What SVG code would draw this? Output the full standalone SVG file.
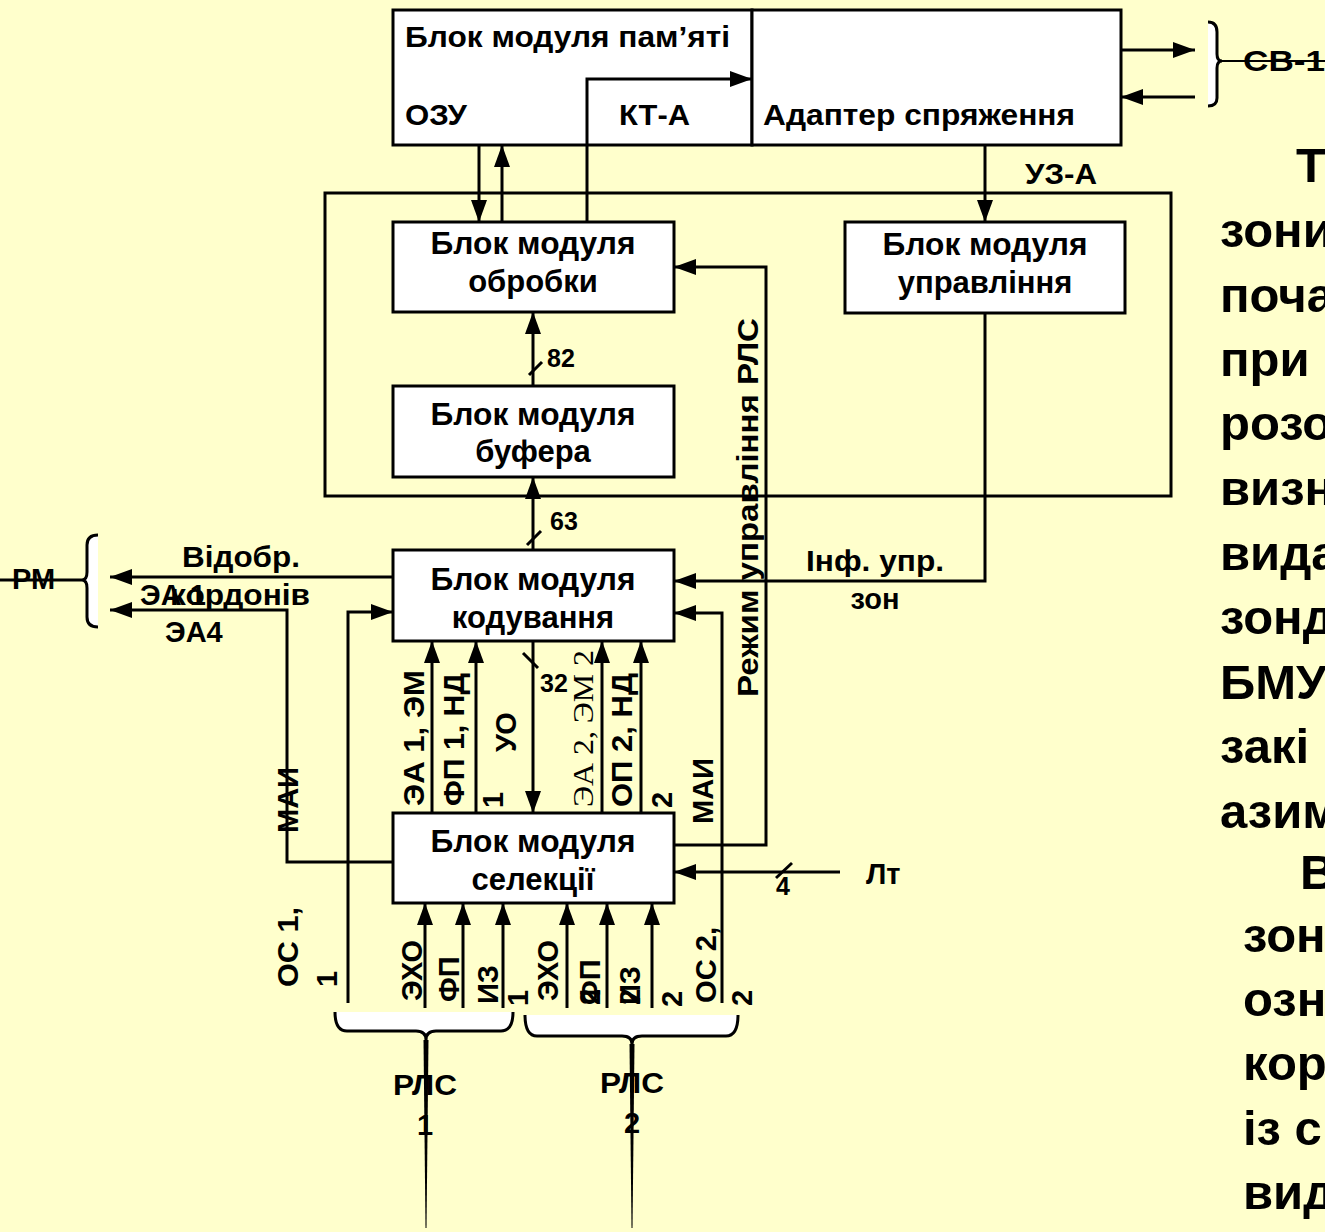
<svg xmlns="http://www.w3.org/2000/svg" width="1325" height="1232" viewBox="0 0 1325 1232">
<defs>
<marker id="ah" markerUnits="userSpaceOnUse" markerWidth="24" markerHeight="18" refX="22" refY="8" orient="auto"><path d="M0,0 L22,8 L0,16 z" fill="#000"/></marker>
<style>
.ln{stroke:#000;stroke-width:3;fill:none}
.arr{stroke:#000;stroke-width:3;fill:none;marker-end:url(#ah)}
.box{fill:#fff;stroke:#000;stroke-width:3}
.br{fill:#fff;stroke:#000;stroke-width:3}
text{font-family:"Liberation Sans",Arial,sans-serif;font-weight:bold;fill:#000}
.n{font-size:31px;text-anchor:middle}
.l{font-size:29px}
.s{font-size:25px}
.big{font-size:49px}
</style>
</defs>
<rect width="1325" height="1232" fill="#FFFFCC"/>

<g id="outer-frame"><rect x="325" y="193" width="846" height="303" fill="none" stroke="#000" stroke-width="3"/></g>

<g id="memory-block">
<rect class="box" x="393" y="10" width="359" height="135"/>
<text x="405" y="47" style="font-size:30px" textLength="325" lengthAdjust="spacingAndGlyphs">Блок модуля пам’яті</text>
<text x="405" y="125" style="font-size:30px" textLength="62" lengthAdjust="spacingAndGlyphs">ОЗУ</text>
<text x="619" y="125" style="font-size:30px" textLength="71" lengthAdjust="spacingAndGlyphs">КТ-А</text>
</g>
<g id="adapter">
<rect class="box" x="752" y="10" width="369" height="135"/>
<text x="763" y="125" style="font-size:30px" textLength="312" lengthAdjust="spacingAndGlyphs">Адаптер спряження</text>
</g>
<g id="block-obrobky"><rect class="box" x="393" y="222" width="281" height="90"/><text class="n" x="533" y="254" textLength="205" lengthAdjust="spacingAndGlyphs">Блок модуля</text><text class="n" x="533" y="292">обробки</text></g>
<g id="block-upravlinnya"><rect class="box" x="845" y="222" width="280" height="91"/><text class="n" x="985" y="255" textLength="205" lengthAdjust="spacingAndGlyphs">Блок модуля</text><text class="n" x="985" y="293">управління</text></g>
<g id="block-bufera"><rect class="box" x="393" y="386" width="281" height="91"/><text class="n" x="533" y="425" textLength="205" lengthAdjust="spacingAndGlyphs">Блок модуля</text><text class="n" x="533" y="462">буфера</text></g>
<g id="block-koduvannya"><rect class="box" x="393" y="550" width="281" height="91"/><text class="n" x="533" y="590" textLength="205" lengthAdjust="spacingAndGlyphs">Блок модуля</text><text class="n" x="533" y="628">кодування</text></g>
<g id="block-selektsii"><rect class="box" x="393" y="813" width="281" height="90"/><text class="n" x="533" y="852" textLength="205" lengthAdjust="spacingAndGlyphs">Блок модуля</text><text class="n" x="533" y="890">селекції</text></g>

<g id="connectors">
<path class="arr" d="M479,145 V222"/>
<path class="arr" d="M502,222 V145"/>
<path class="arr" d="M587,222 V79 H752"/>
<path class="arr" d="M985,145 V222"/>
<path class="arr" d="M1121,50 H1195"/>
<path class="arr" d="M1195,97 H1121"/>
<path class="arr" d="M533,386 V312"/>
<path class="ln" d="M529,375 L542,362"/>
<path class="arr" d="M533,550 V477"/>
<path class="ln" d="M527,545 L541,531"/>
<path class="arr" d="M674,845 H766 V267 H674"/>
<path class="arr" d="M985,313 V581 H674"/>
<path class="arr" d="M722,1003 V613 H674"/>
<path class="arr" d="M840,872 H674"/>
<path class="ln" d="M776,878 L792,863"/>
<path class="arr" d="M393,577 H110"/>
<path class="arr" d="M393,862 H287 V610 H110"/>
<path class="arr" d="M348,1003 V612 H393"/>
<path class="arr" d="M432,813 V641"/>
<path class="arr" d="M476,813 V641"/>
<path class="arr" d="M602,813 V641"/>
<path class="arr" d="M641,813 V641"/>
<path class="arr" d="M533,641 V813"/>
<path class="ln" d="M523,653 L538,668"/>
<path class="arr" d="M425,1008 V903"/>
<path class="arr" d="M463,1008 V903"/>
<path class="arr" d="M503,1008 V903"/>
<path class="arr" d="M567,1008 V903"/>
<path class="arr" d="M607,1008 V903"/>
<path class="arr" d="M652,1008 V903"/>
<path class="ln" d="M0,580 H82"/>
<path class="ln" style="stroke-width:2" d="M1222,61 H1325"/>
</g>

<g id="brackets">
<path class="br" d="M98,535 Q87,535 87,545 V572 Q87,580 82,580 Q87,580 87,588 V617 Q87,627 98,627"/>
<path class="br" d="M1208,22 Q1217,22 1217,32 V54 Q1217,61 1222,61 Q1217,61 1217,68 V98 Q1217,106 1208,106"/>
<path class="br" d="M335,1012 Q335,1031 347,1031 H416 Q426,1031 426,1040 Q426,1031 436,1031 H501 Q513,1031 513,1012"/>
<path class="br" d="M525,1015 Q525,1036 537,1036 H622 Q632,1036 632,1044 Q632,1036 642,1036 H726 Q738,1036 738,1015"/>
<polygon points="423.5,1040 428.5,1040 426.5,1228 425.5,1228" fill="#000"/>
<polygon points="629.5,1044 634.5,1044 632.5,1228 631.5,1228" fill="#000"/>
</g>

<g id="labels">
<text class="l" x="1025" y="184" textLength="72" lengthAdjust="spacingAndGlyphs">УЗ-А</text>
<text class="l" x="1243" y="71" textLength="82" lengthAdjust="spacingAndGlyphs">СВ-1</text>
<text class="s" x="547" y="367">82</text>
<text class="s" x="550" y="530">63</text>
<text class="s" x="540" y="692">32</text>
<text class="s" x="776" y="895">4</text>
<text class="l" x="866" y="884">Лт</text>
<text class="l" x="806" y="571" textLength="138" lengthAdjust="spacingAndGlyphs">Інф. упр.</text>
<text class="l" x="875" y="609" text-anchor="middle">зон</text>
<text class="l" x="12" y="589">РМ</text>
<text class="l" x="182" y="567" textLength="118" lengthAdjust="spacingAndGlyphs">Відобр.</text>
<text class="l" x="170" y="605" textLength="140" lengthAdjust="spacingAndGlyphs">кордонів</text>
<text class="l" x="140" y="605">ЭА 1</text>
<text class="l" x="165" y="642">ЭА4</text>
<text class="l" x="393" y="1095" textLength="64" lengthAdjust="spacingAndGlyphs">РЛС</text>
<text class="l" x="425" y="1135" text-anchor="middle">1</text>
<text class="l" x="600" y="1093" textLength="64" lengthAdjust="spacingAndGlyphs">РЛС</text>
<text class="l" x="632" y="1133" text-anchor="middle">2</text>
<text class="l" transform="translate(758,697) rotate(-90)" textLength="379" lengthAdjust="spacingAndGlyphs">Режим управління РЛС</text>
<text class="l" transform="translate(424,806) rotate(-90)" textLength="136" lengthAdjust="spacingAndGlyphs">ЭА 1, ЭМ</text>
<text class="l" transform="translate(464,806) rotate(-90)" textLength="133" lengthAdjust="spacingAndGlyphs">ФП 1, НД</text>
<text class="l" transform="translate(503,808) rotate(-90)">1</text>
<text class="l" transform="translate(516,752) rotate(-90)">УО</text>
<text class="l" style="font-family:'Liberation Serif',serif;font-weight:normal" transform="translate(593,807) rotate(-90)" textLength="157" lengthAdjust="spacingAndGlyphs">ЭА 2, ЭМ 2</text>
<text class="l" transform="translate(632,807) rotate(-90)" textLength="134" lengthAdjust="spacingAndGlyphs">ОП 2, НД</text>
<text class="l" transform="translate(672,808) rotate(-90)">2</text>
<text class="l" transform="translate(713,824) rotate(-90)">МАИ</text>
<text class="l" transform="translate(298,833) rotate(-90)">МАИ</text>
<text class="l" transform="translate(298,987) rotate(-90)" textLength="80" lengthAdjust="spacingAndGlyphs">ОС 1,</text>
<text class="l" transform="translate(337,987) rotate(-90)">1</text>
<text class="l" transform="translate(422,1001) rotate(-90)">ЭХО</text>
<text class="l" transform="translate(459,1002) rotate(-90)">ФП</text>
<text class="l" transform="translate(498,1004) rotate(-90)">ИЗ</text>
<text class="l" transform="translate(528,1006) rotate(-90)">1</text>
<text class="l" transform="translate(558,1001) rotate(-90)">ЭХО</text>
<text class="l" transform="translate(600,1005) rotate(-90)">ФП</text>
<text class="l" transform="translate(600,1005) rotate(-90)">2</text>
<text class="l" transform="translate(640,1005) rotate(-90)">ИЗ</text>
<text class="l" transform="translate(640,1005) rotate(-90)">2</text>
<text class="l" transform="translate(682,1007) rotate(-90)">2</text>
<text class="l" transform="translate(716,1003) rotate(-90)" textLength="76" lengthAdjust="spacingAndGlyphs">ОС 2,</text>
<text class="l" transform="translate(752,1006) rotate(-90)">2</text>
</g>

<g id="side-text">
<text class="big" x="1296" y="182">Т</text>
<text class="big" x="1220" y="247">зони</text>
<text class="big" x="1220" y="312">поча</text>
<text class="big" x="1220" y="376">при</text>
<text class="big" x="1220" y="440">розо</text>
<text class="big" x="1220" y="505">визн</text>
<text class="big" x="1220" y="570">вида</text>
<text class="big" x="1220" y="634">зонд</text>
<text class="big" x="1220" y="699">БМУ</text>
<text class="big" x="1220" y="763">закі</text>
<text class="big" x="1220" y="828">азим</text>
<text class="big" x="1300" y="889">В</text>
<text class="big" x="1243" y="952">зон</text>
<text class="big" x="1243" y="1016">озн</text>
<text class="big" x="1243" y="1080">кор</text>
<text class="big" x="1243" y="1145">із с</text>
<text class="big" x="1243" y="1209">вид</text>
</g>
</svg>
